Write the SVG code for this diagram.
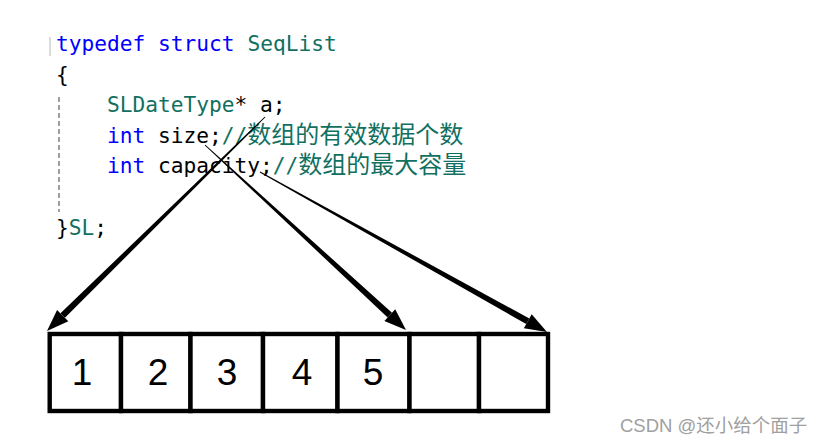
<svg xmlns="http://www.w3.org/2000/svg" width="826" height="443" viewBox="0 0 826 443">
<style>
.code{font-family:"DejaVu Sans Mono","Liberation Mono",monospace;font-size:21.2px;fill:#000;white-space:pre}
.kw{fill:#0000ff}
.ty{fill:#11705f}
.cj{font-family:"Noto Sans CJK SC","Noto Sans",sans-serif;font-size:24px}
.num{font-family:"Liberation Sans",Arial,sans-serif;font-size:37px;fill:#000;text-anchor:middle}
.cell{fill:#fff;stroke:#000;stroke-width:4.4}
.wm{font-family:"Liberation Sans","Noto Sans CJK SC",sans-serif;font-size:18.5px;fill:#a0a0a0}
.arr{fill:#000}
</style>
<rect width="826" height="443" fill="#fff"/>
<g id="code">
<line x1="50" y1="37" x2="50" y2="56" stroke="#b8b8b8" stroke-width="1"/>
<line x1="59" y1="97" x2="59" y2="212" stroke="#777" stroke-width="1.4" stroke-dasharray="5 3"/>
<text class="code" x="56" y="51"><tspan class="kw">typedef</tspan> <tspan class="kw">struct</tspan> <tspan class="ty">SeqList</tspan></text>
<text class="code" x="56" y="82">{</text>
<text class="code" x="107" y="112"><tspan class="ty">SLDateType</tspan>* a;</text>
<text class="code" x="107" y="143"><tspan class="kw">int</tspan> size;<tspan class="ty">//</tspan><tspan class="ty cj">数组的有效数据个数</tspan></text>
<text class="code" x="107" y="173"><tspan class="kw">int</tspan> capacity;<tspan class="ty">//</tspan><tspan class="ty cj">数组的最大容量</tspan></text>
<text class="code" x="56" y="235">}<tspan class="ty">SL</tspan>;</text>
</g>
<g id="array">
<rect class="cell" x="49.7" y="334" width="71.3" height="77"/>
<rect class="cell" x="121" y="334" width="69.5" height="77"/>
<rect class="cell" x="190.5" y="334" width="72.5" height="77"/>
<rect class="cell" x="263" y="334" width="74.5" height="77"/>
<rect class="cell" x="337.5" y="334" width="72" height="77"/>
<rect class="cell" x="409.5" y="334" width="69.5" height="77"/>
<rect class="cell" x="479" y="334" width="69" height="77"/>
<text class="num" x="82" y="385">1</text>
<text class="num" x="158" y="385">2</text>
<text class="num" x="227" y="385">3</text>
<text class="num" x="302" y="385">4</text>
<text class="num" x="373" y="385">5</text>
</g>
<g id="connectors">
<polygon class="arr" points="265.35,117.36 264.65,116.64 60.46,313.31 64.94,317.87"/>
<polygon class="arr" points="47,331 68.30,321.30 57.10,309.88"/>
<polygon class="arr" points="204.66,145.37 205.34,144.63 391.98,312.75 387.64,317.45"/>
<polygon class="arr" points="406,330 384.39,320.99 395.23,309.21"/>
<polygon class="arr" points="259.76,172.44 260.24,171.56 529.35,318.50 526.23,324.08"/>
<polygon class="arr" points="547,332 523.89,328.28 531.69,314.30"/>
</g>
<text class="wm" x="620" y="432">CSDN @还小给个面子</text>
</svg>
